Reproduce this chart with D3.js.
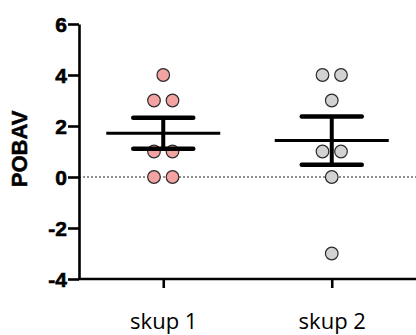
<!DOCTYPE html>
<html>
<head>
<meta charset="utf-8">
<script src="https://cdn.jsdelivr.net/npm/d3@7"></script>
<style>
  body { margin: 0; background: #fff; }
  svg { display: block; }
  .ylab text { font-family: "Liberation Sans", Arial, sans-serif; font-weight: 700; font-size: 21px; stroke: #000; stroke-width: 0.6px; }
</style>
</head>
<body>
<svg width="416" height="335"></svg>
<script>
var groups = ["skup 1", "skup 2"];
var skup1 = [4, 3, 3, 1, 1, 0, 0];
var skup2 = [4, 4, 3, 1, 1, 0, -3];
var yTicks = [-4, -2, 0, 2, 4, 6];
var fills = ["#f4a3a3", "#d2d2d2"];

var width = 416, height = 335;
var svg = d3.select("svg");

var x = d3.scalePoint().domain(groups).range([79, 416]).padding(0.5);
var y = d3.scaleLinear().domain([-4, 6]).range([279, 24]);

var values = [skup1, skup2];

// dotted zero line
svg.append("line")
  .attr("x1", x.range()[0]).attr("x2", width)
  .attr("y1", y(0)).attr("y2", y(0))
  .attr("stroke", "#222").attr("stroke-width", 1)
  .attr("stroke-dasharray", "2,2");

// points, side by side when values repeat
values.forEach(function(vals, gi) {
  var counts = d3.rollup(vals, function(v) { return v.length; }, function(d) { return d; });
  var seen = new Map();
  var pts = vals.map(function(v) {
    var n = counts.get(v), k = seen.get(v) || 0;
    seen.set(v, k + 1);
    return { v: v, off: (k - (n - 1) / 2) * 18.5 };
  });
  svg.append("g").selectAll("circle")
    .data(pts).enter()
    .append("circle")
    .attr("cx", function(d) { return x(groups[gi]) + d.off; })
    .attr("cy", function(d) { return y(d.v); })
    .attr("r", 6.3)
    .attr("fill", fills[gi])
    .attr("stroke", "#2a2a2a")
    .attr("stroke-width", 1.2);
});

// mean and SEM
values.forEach(function(vals, gi) {
  var cx = x(groups[gi]);
  var m = d3.mean(vals);
  var sem = d3.deviation(vals) / Math.sqrt(vals.length);
  var g = svg.append("g").attr("stroke", "#000");
  g.append("line")
    .attr("x1", cx - 57).attr("x2", cx + 57)
    .attr("y1", y(m)).attr("y2", y(m))
    .attr("stroke-width", 3);
  g.append("line")
    .attr("x1", cx).attr("x2", cx)
    .attr("y1", y(m + sem)).attr("y2", y(m - sem))
    .attr("stroke-width", 4);
  [m + sem, m - sem].forEach(function(e) {
    g.append("line")
      .attr("x1", cx - 30).attr("x2", cx + 30)
      .attr("y1", y(e)).attr("y2", y(e))
      .attr("stroke-width", 4.5)
      .attr("stroke-linecap", "round");
  });
});

// y axis
var yAxis = svg.append("g")
  .attr("class", "ylab")
  .attr("transform", "translate(79,0)")
  .call(d3.axisLeft(y).tickValues(yTicks).tickSize(11).tickSizeOuter(0).tickPadding(1)
    .tickFormat(function(d) { return String(d); }));
yAxis.attr("font-size", null).attr("font-family", null);
yAxis.selectAll("path, line").attr("stroke", "#000").attr("stroke-width", 2.6);
yAxis.selectAll("text").attr("fill", "#000").attr("dy", "0.36em");

// x axis
var xAxis = svg.append("g")
  .attr("transform", "translate(0," + y(-4) + ")")
  .call(d3.axisBottom(x).tickSize(9).tickSizeOuter(0));
xAxis.select(".domain").attr("d", "M78,0H" + width);
xAxis.selectAll("path, line").attr("stroke", "#000").attr("stroke-width", 2.6);
xAxis.selectAll("text")
  .attr("y", 50).attr("dy", null)
  .style("font-family", "'Open Sans', sans-serif")
  .style("font-size", "22px")
  .attr("fill", "#000");

// y title
svg.append("text")
  .attr("transform", "translate(27,149) rotate(-90)")
  .attr("text-anchor", "middle")
  .style("font-family", "'Liberation Sans', Arial, sans-serif")
  .style("font-weight", "bold")
  .style("font-size", "22px")
  .attr("stroke", "#000").attr("stroke-width", 0.5)
  .text("POBAV");
</script>
</body>
</html>
